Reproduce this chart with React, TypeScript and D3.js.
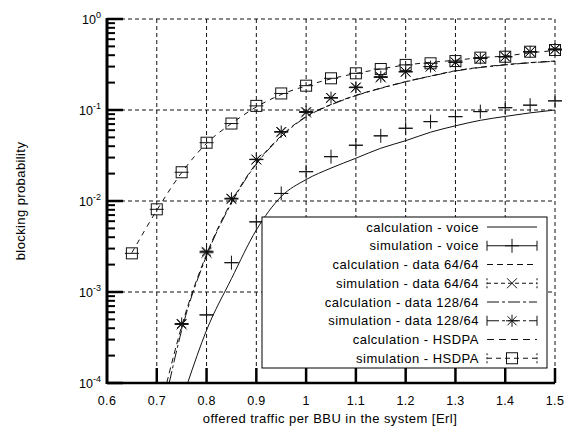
import React from "react";
import * as d3 from "d3";

const W = 575;
const H = 429;

// axis ticks
const xTicks = [0.6, 0.7, 0.8, 0.9, 1.0, 1.1, 1.2, 1.3, 1.4, 1.5];
const xTickLabels = ["0.6", "0.7", "0.8", "0.9", "1", "1.1", "1.2", "1.3", "1.4", "1.5"];
const yTicks = [1e-4, 1e-3, 1e-2, 1e-1, 1];
const yTickExp = ["-4", "-3", "-2", "-1", "0"];

// calculation - voice
const voiceCalcX = [0.762, 0.8, 0.85, 0.9, 0.95, 1.0, 1.05, 1.1, 1.15, 1.2, 1.25, 1.3, 1.35, 1.4, 1.45, 1.5];
const voiceCalc = [1e-4, 0.00038, 0.0014, 0.0048, 0.0112, 0.0172, 0.023, 0.0295, 0.038, 0.046, 0.057, 0.067, 0.077, 0.085, 0.093, 0.1];

// simulation - voice
const voiceSimX = [0.8, 0.85, 0.9, 0.95, 1.0, 1.05, 1.1, 1.15, 1.2, 1.25, 1.3, 1.35, 1.4, 1.45, 1.5];
const voiceSim = [0.00056, 0.0021, 0.0059, 0.0121, 0.021, 0.0307, 0.041, 0.052, 0.063, 0.0745, 0.0845, 0.096, 0.106, 0.113, 0.126];

// calculation - data 64/64
const data64CalcX = [0.72, 0.75, 0.8, 0.85, 0.9, 0.95, 1.0, 1.05, 1.1, 1.15, 1.2, 1.25, 1.3, 1.35, 1.4, 1.45, 1.5];
const data64Calc = [1e-4, 0.00042, 0.0026, 0.0098, 0.026, 0.052, 0.085, 0.115, 0.145, 0.174, 0.205, 0.236, 0.27, 0.295, 0.315, 0.332, 0.345];

// simulation - data 64/64
const data64SimX = [0.75, 0.8, 0.85, 0.9, 0.95, 1.0, 1.05, 1.1, 1.15, 1.2, 1.25, 1.3, 1.35, 1.4, 1.45, 1.5];
const data64Sim = [0.00044, 0.0027, 0.0105, 0.0285, 0.057, 0.094, 0.135, 0.176, 0.228, 0.262, 0.3, 0.334, 0.368, 0.386, 0.435, 0.462];

// calculation - data 128/64
const data128CalcX = [0.725, 0.75, 0.8, 0.85, 0.9, 0.95, 1.0, 1.05, 1.1, 1.15, 1.2, 1.25, 1.3, 1.35, 1.4, 1.45, 1.5];
const data128Calc = [1e-4, 0.00038, 0.0025, 0.0095, 0.0255, 0.051, 0.084, 0.114, 0.144, 0.173, 0.204, 0.235, 0.268, 0.293, 0.313, 0.33, 0.343];

// simulation - data 128/64
const data128SimX = [0.75, 0.8, 0.85, 0.9, 0.95, 1.0, 1.05, 1.1, 1.15, 1.2, 1.25, 1.3, 1.35, 1.4, 1.45, 1.5];
const data128Sim = [0.00045, 0.0028, 0.0107, 0.0287, 0.058, 0.096, 0.137, 0.178, 0.232, 0.264, 0.3, 0.335, 0.37, 0.385, 0.437, 0.468];

// calculation - HSDPA
const hsdpaCalcX = [0.65, 0.7, 0.75, 0.8, 0.85, 0.9, 0.95, 1.0, 1.05, 1.1, 1.15, 1.2, 1.25, 1.3, 1.35, 1.4, 1.45, 1.5];
const hsdpaCalc = [0.0027, 0.0079, 0.0205, 0.043, 0.071, 0.108, 0.148, 0.184, 0.22, 0.252, 0.283, 0.312, 0.334, 0.352, 0.376, 0.392, 0.425, 0.45];

// simulation - HSDPA
const hsdpaSimX = [0.65, 0.7, 0.75, 0.8, 0.85, 0.9, 0.95, 1.0, 1.05, 1.1, 1.15, 1.2, 1.25, 1.3, 1.35, 1.4, 1.45, 1.5];
const hsdpaSim = [0.00266, 0.0081, 0.0207, 0.0437, 0.071, 0.111, 0.152, 0.185, 0.223, 0.253, 0.282, 0.313, 0.326, 0.345, 0.376, 0.385, 0.437, 0.456];

const legendLabels = [
  "calculation - voice",
  "simulation - voice",
  "calculation - data 64/64",
  "simulation - data 64/64",
  "calculation - data 128/64",
  "simulation - data 128/64",
  "calculation - HSDPA",
  "simulation - HSDPA",
];

const FONT = "'Liberation Sans', Arial, sans-serif";
const INK = "#111";

const Marker = ({ type, x, y }) => {
  if (type === "plus") {
    const s = 7;
    return <path d={`M${x - s},${y}H${x + s}M${x},${y - s}V${y + s}`} stroke={INK} fill="none" />;
  }
  if (type === "cross") {
    const s = 5;
    return <path d={`M${x - s},${y - s}L${x + s},${y + s}M${x - s},${y + s}L${x + s},${y - s}`} stroke={INK} fill="none" />;
  }
  if (type === "star") {
    const s = 6;
    const d = 4.5;
    return (
      <path
        d={`M${x - s},${y}H${x + s}M${x},${y - s}V${y + s}M${x - d},${y - d}L${x + d},${y + d}M${x - d},${y + d}L${x + d},${y - d}`}
        stroke={INK}
        fill="none"
      />
    );
  }
  const s = 5.5;
  return <rect x={x - s} y={y - s} width={2 * s} height={2 * s} stroke={INK} fill="none" />;
};

export default function App() {
  const x = d3.scaleLinear().domain([0.6, 1.5]).range([107, 555]);
  const y = d3.scaleLog().domain([1e-4, 1]).range([383, 19]);
  const [x0, x1] = x.range();
  const [y0, y1] = y.range();

  const line = d3
    .line()
    .x((d) => x(d[0]))
    .y((d) => y(d[1]))
    .curve(d3.curveMonotoneX);

  const zip = (xs, ys) => xs.map((v, i) => [v, ys[i]]);

  const calcs = [
    { pts: zip(voiceCalcX, voiceCalc), dash: null },
    { pts: zip(data64CalcX, data64Calc), dash: "6,4" },
    { pts: zip(data128CalcX, data128Calc), dash: "12,3,3,3" },
    { pts: zip(hsdpaCalcX, hsdpaCalc), dash: "5,5" },
  ];

  const sims = [
    { pts: zip(voiceSimX, voiceSim), marker: "plus" },
    { pts: zip(data64SimX, data64Sim), marker: "cross" },
    { pts: zip(data128SimX, data128Sim), marker: "star" },
    { pts: zip(hsdpaSimX, hsdpaSim), marker: "square" },
  ];

  // legend sample styles, one per row
  const legendStyles = [
    { dash: null, marker: null },
    { dash: null, marker: "plus" },
    { dash: "6,4", marker: null },
    { dash: "4,3", marker: "cross" },
    { dash: "12,3,3,3", marker: null },
    { dash: "12,3,3,3", marker: "star" },
    { dash: "7,5", marker: null },
    { dash: "5,4", marker: "square" },
  ];

  const minorTicks = [];
  for (let k = -4; k < 0; k++) {
    for (let m = 2; m <= 9; m++) minorTicks.push(m * Math.pow(10, k));
  }

  const legX = 262;
  const legY = 217;
  const legW = 285;
  const legH = 151;
  const rowY = (i) => 227 + i * 18.75;
  const sx1 = 487;
  const sx2 = 537;

  return (
    <svg
      width={W}
      height={H}
      style={{ position: "absolute", left: 0, top: 0, background: "#fff" }}
      fontFamily={FONT}
    >
      <rect width={W} height={H} fill="#fff" />
      <defs>
        <clipPath id="plot">
          <rect x={x0} y={y1} width={x1 - x0} height={y0 - y1} />
        </clipPath>
      </defs>

      {/* grid */}
      <g stroke={INK} strokeDasharray="4,3" strokeWidth={1}>
        {xTicks.slice(1).map((t) => (
          <line key={t} x1={x(t)} x2={x(t)} y1={y1} y2={y0} />
        ))}
        {yTicks.slice(1).map((t) => (
          <line key={t} x1={x0} x2={x1} y1={y(t)} y2={y(t)} />
        ))}
      </g>

      {/* calculation curves */}
      <g clipPath="url(#plot)" fill="none" stroke={INK} strokeWidth={1}>
        {calcs.map((c, i) => (
          <path key={i} d={line(c.pts)} strokeDasharray={c.dash || undefined} />
        ))}
      </g>

      {/* simulation points with tiny error bar caps */}
      <g>
        {sims.map((s, i) =>
          s.pts.map((p, j) => (
            <g key={`${i}-${j}`}>
              <line x1={x(p[0]) - 7} x2={x(p[0]) + 7} y1={y(p[1])} y2={y(p[1])} stroke={INK} />
              <Marker type={s.marker} x={x(p[0])} y={y(p[1])} />
            </g>
          ))
        )}
      </g>

      {/* axes */}
      <g stroke="#000">
        <line x1={x0} x2={x0} y1={y1 - 1} y2={y0 + 1} strokeWidth={3} />
        <line x1={x0} x2={x1} y1={y0} y2={y0} strokeWidth={2.5} />
        {yTicks.map((t) => (
          <line key={t} x1={x0} x2={x0 + 16} y1={y(t)} y2={y(t)} strokeWidth={2.5} />
        ))}
        {minorTicks.map((t) => (
          <line key={t} x1={x0} x2={x0 + 8} y1={y(t)} y2={y(t)} strokeWidth={2} />
        ))}
      </g>

      {/* legend */}
      <rect x={legX} y={legY} width={legW} height={legH} fill="#fff" stroke="#000" strokeWidth={1} />
      {legendLabels.map((label, i) => {
        const st = legendStyles[i];
        const cy = rowY(i);
        const capDash = st.dash === "4,3" || st.dash === "5,4" ? "2,2" : undefined;
        return (
          <g key={label}>
            <text x={479} y={cy} dy="0.35em" textAnchor="end" fontSize={13} letterSpacing={0.5} fill="#000">
              {label}
            </text>
            <line x1={sx1} x2={sx2} y1={cy} y2={cy} stroke={INK} strokeDasharray={st.dash || undefined} />
            {st.marker && (
              <>
                <line x1={sx1} x2={sx1} y1={cy - 5} y2={cy + 5} stroke={INK} strokeDasharray={capDash} />
                <line x1={sx2} x2={sx2} y1={cy - 5} y2={cy + 5} stroke={INK} strokeDasharray={capDash} />
                <Marker type={st.marker} x={(sx1 + sx2) / 2} y={cy} />
              </>
            )}
          </g>
        );
      })}

      {/* bottom ticks over the legend box edge */}
      <g stroke="#000" strokeWidth={2.5}>
        {xTicks.slice(1).map((t) => (
          <line key={t} x1={x(t)} x2={x(t)} y1={y0} y2={y0 - 15} />
        ))}
      </g>

      {/* tick labels */}
      <g fontSize={12.5} fill="#000">
        {xTicks.map((t, i) => (
          <text key={t} x={x(t)} y={405} textAnchor="middle" letterSpacing={0.3}>
            {xTickLabels[i]}
          </text>
        ))}
        {yTicks.map((t, i) => (
          <text key={t} x={101} y={y(t)} dy="0.4em" textAnchor="end">
            10
            <tspan dy="-6" fontSize={9}>
              {yTickExp[i]}
            </tspan>
          </text>
        ))}
      </g>

      <text x={330} y={423} textAnchor="middle" fontSize={13} letterSpacing={0.45} fill="#000">
        offered traffic per BBU in the system [Erl]
      </text>
      <text transform={`translate(25,${(y0 + y1) / 2}) rotate(-90)`} textAnchor="middle" fontSize={13} letterSpacing={0.4} fill="#000">
        blocking probability
      </text>
    </svg>
  );
}
